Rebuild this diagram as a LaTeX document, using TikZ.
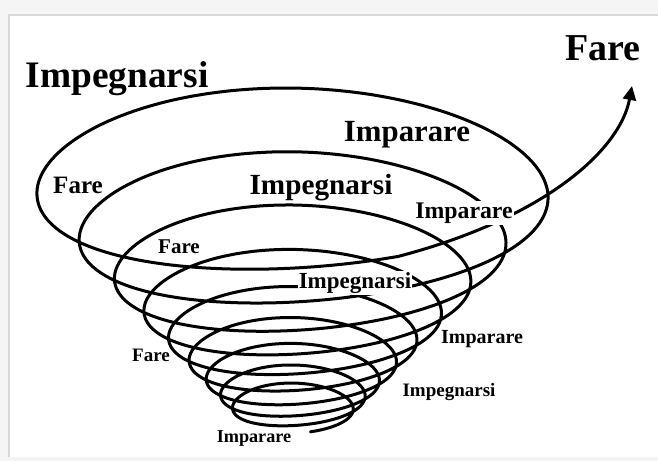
\documentclass[tikz,border=0pt]{standalone}
\usepackage{fontspec}
\setmainfont{Liberation Serif}
\usetikzlibrary{arrows.meta}

\begin{document}
\begin{tikzpicture}[
  x=0.5pt, y=-0.5pt,
  spiral/.style={line width=1.5pt, line join=round, line cap=round},
  word/.style={inner sep=0.6pt, font=\fontsize{#1}{#1}\selectfont\bfseries},
  gapword/.style={word=#1, fill=white}
]
% frame
\useasboundingbox (0,0) rectangle (658,461);
\fill[gray!8] (0,0) rectangle (658,461);
\fill[white] (10,16) rectangle (658,457);
\draw[gray!30, line width=1.2pt] (9,457) |- (658,15);

% growing spiral, from the tip up to the arrow
\def\lq{-0.18032}
\def\wide{256*exp(\lq*(8.2613-\t-1.5*cos(360*\t)/6.2832))}
\def\high{256*exp(\lq*(8.5-\t))}
\coordinate (tip) at (632,86);
\draw[spiral, -{Triangle[length=7pt, width=6.5pt]}]
  plot[variable=\t, domain=-0.2:8.82, samples=800, smooth]
    ({293 + \wide*cos(360*\t)},
     {474.3 - 1.138*\high - \high*(0.404 + 0.036*sin(360*\t))*sin(360*\t)
      - 0.03*\wide*cos(360*\t)})
  .. controls (545,218) and (620,150) .. (tip);

% words along the spiral
\node[word=19] (fare1) at (603,48) {Fare};
\node[word=18.7] (impegnarsi1) at (117,79) {Impegnarsi};
\node[word=15.4] (imparare1) at (407,135) {Imparare};
\node[word=12.5] (fare2) at (78,185) {Fare};
\node[word=14.6] (impegnarsi2) at (321,188) {Impegnarsi};
\node[gapword=11.9] (imparare2) at (464,213) {Imparare};
\node[word=10.5] (fare3) at (179,247) {Fare};
\node[gapword=11.5] (impegnarsi3) at (355,283) {Impegnarsi};
\node[word=10] (imparare3) at (482,339) {Imparare};
\node[word=9.5] (fare4) at (151,355) {Fare};
\node[word=9.5] (impegnarsi4) at (449,392) {Impegnarsi};
\node[word=9.1] (imparare4) at (254,438) {Imparare};
\end{tikzpicture}
\end{document}
